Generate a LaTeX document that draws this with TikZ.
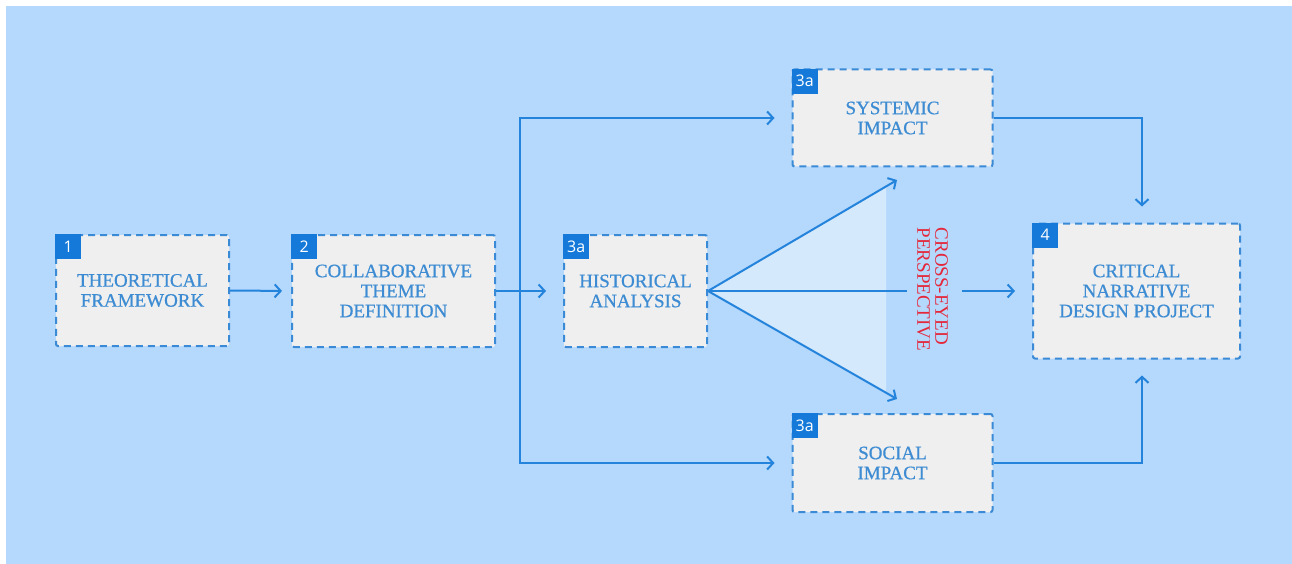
\documentclass[tikz,border=0pt]{standalone}
\usepackage{fontspec}
\setmainfont{Liberation Serif}
\newfontfamily\labelfont[FakeBold=0.7]{Liberation Serif}
\newfontfamily\badgefont{Open Sans}
\usetikzlibrary{arrows.meta}

\definecolor{bg}{HTML}{B5D8FD}
\definecolor{boxfill}{HTML}{EFEFEF}
\definecolor{edge}{HTML}{3A8AD6}
\definecolor{wire}{HTML}{2483DB}
\definecolor{label}{HTML}{3D8CD3}
\definecolor{badge}{HTML}{1479D9}
\definecolor{fan}{HTML}{D5E9FC}
\definecolor{accent}{HTML}{E4283A}

\tikzset{
  stage/.style={draw=edge, line width=2pt, dash pattern=on 7pt off 5pt,
    fill=boxfill, rounded corners=2pt, text=label, align=center,
    inner sep=0pt, font=\labelfont\fontsize{19}{20}\selectfont},
  tag/.style={fill=badge, text=white, anchor=north west, inner sep=0pt,
    minimum width=26pt, minimum height=25pt,
    font=\badgefont\fontsize{16}{16}\selectfont},
  wireline/.style={draw=wire, line width=2pt},
  link/.style={wireline, -{Straight Barb[length=6pt,width=13pt]}},
}

\begin{document}
\begin{tikzpicture}[x=1pt, y=-1pt]
  % canvas
  \useasboundingbox (0,0) rectangle (1292,564);
  \fill[white] (0,0) rectangle (1292,564);
  \fill[bg] (6,6) rectangle (1292,564);

  % stages
  \node[stage, minimum width=173pt, minimum height=111pt] (s1) at (142.5,290.5) {THEORETICAL\\FRAMEWORK};
  \node[stage, minimum width=203pt, minimum height=112pt] (s2) at (393.5,291) {COLLABORATIVE\\THEME\\DEFINITION};
  \node[stage, minimum width=143pt, minimum height=112pt] (hist) at (635.5,291) {HISTORICAL\\ANALYSIS};
  \node[stage, minimum width=200pt, minimum height=97pt] (sys) at (892.5,118) {SYSTEMIC\\IMPACT};
  \node[stage, minimum width=200pt, minimum height=98pt] (soc) at (892.5,463) {SOCIAL\\IMPACT};
  \node[stage, minimum width=207pt, minimum height=135pt] (s4) at (1136.5,291) {CRITICAL\\NARRATIVE\\DESIGN PROJECT};

  % step badges
  \node[tag] (t1) at (s1.north west) {1};
  \node[tag] (t2) at (s2.north west) {2};
  \node[tag] (t3) at (hist.north west) {3a};
  \node[tag] (t3s) at (sys.north west) {3a};
  \node[tag] (t3c) at (soc.north west) {3a};
  \node[tag] (t4) at (s4.north west) {4};

  % fan of perspectives out of the historical analysis
  \coordinate (up) at (897,180);
  \coordinate (dn) at (897,399);
  \coordinate (fanTop) at (886,186.4);
  \coordinate (fanBot) at (886,392.7);
  \coordinate (midA) at (907,291);
  \coordinate (midB) at (962,291);
  \fill[fan] (hist.east) -- (fanTop) -- (fanBot) -- cycle;
  \draw[link] (hist.east) -- (up);
  \draw[link] (hist.east) -- (dn);
  \draw[wireline] (hist.east) -- (midA);
  \draw[link, shorten >=17pt] (midB) -- (s4.west);

  \node[rotate=-90, text=accent, align=left, inner sep=0pt,
        font=\fontsize{19}{18}\selectfont] (cross) at (932.5,289.5)
        {CROSS-EYED\\PERSPECTIVE};

  % main flow
  \draw[link, shorten >=9pt] (s1.east) -- (s2.west);
  \draw[link, shorten >=17pt] (s2.east) -- (hist.west);
  \coordinate (fork) at (520,291);
  \draw[link, shorten >=17pt] (fork) |- (sys.west);
  \draw[link, shorten >=17pt] (fork) |- (soc.west);
  \draw[link, shorten >=16pt] (sys.east) -| ([xshift=5.5pt]s4.north);
  \draw[link, shorten >=16pt] (soc.east) -| ([xshift=5.5pt]s4.south);
\end{tikzpicture}
\end{document}
